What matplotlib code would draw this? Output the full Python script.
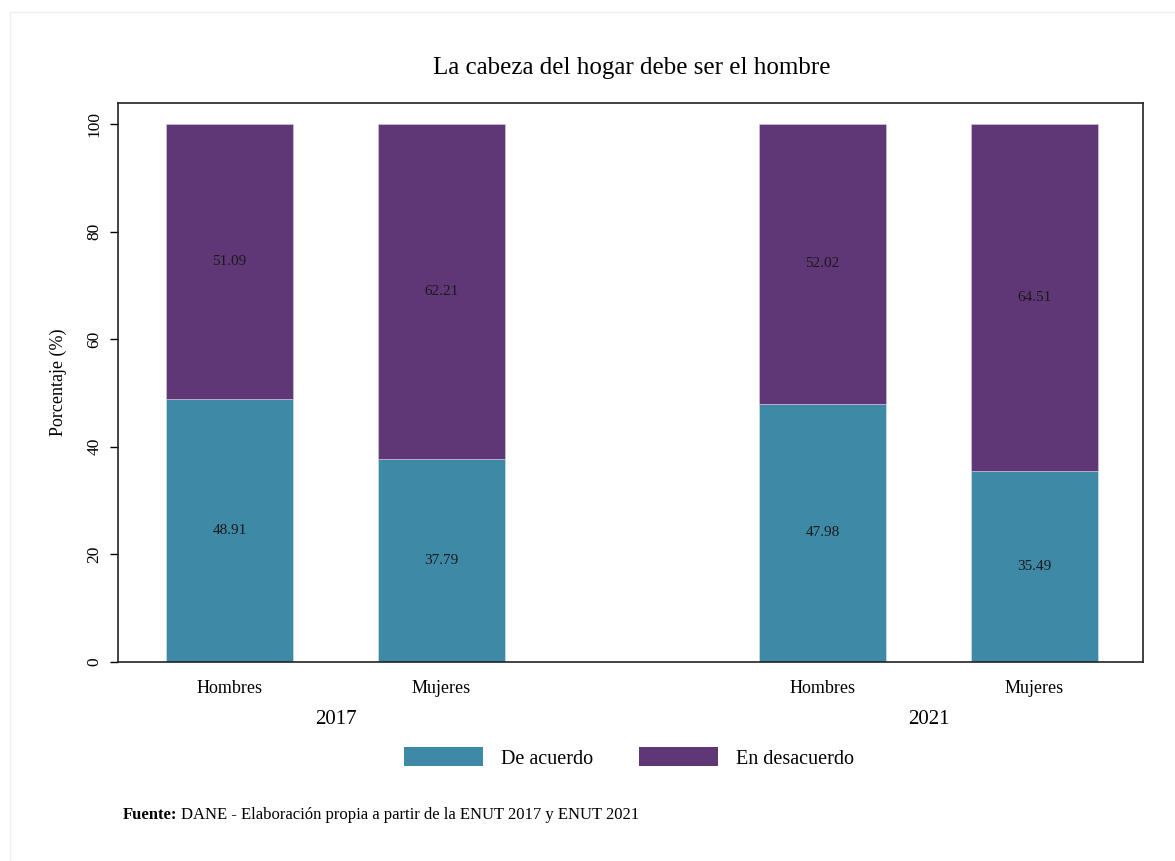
import matplotlib
matplotlib.use("Agg")
import matplotlib.pyplot as plt
from matplotlib.patches import Patch, Rectangle
import numpy as np

years = ["2017", "2021"]
groups = ["Hombres", "Mujeres", "Hombres", "Mujeres"]
de_acuerdo = [48.91, 37.79, 47.98, 35.49]
en_desacuerdo = [51.09, 62.21, 52.02, 64.51]
series_names = ["De acuerdo", "En desacuerdo"]
colors = ["#3E89A6", "#603776"]

plt.rcParams['font.family'] = ['Liberation Serif', 'DejaVu Serif']

W, H = 1175, 861
fig = plt.figure(figsize=(W / 100, H / 100), dpi=100)
fig.patch.set_facecolor("white")

def fx(px): return px / W
def fy(py): return 1 - py / H

ax = fig.add_axes([fx(118), fy(662), fx(1143) - fx(118), fy(103) - fy(662)])

pos = np.array([0, 1, 2.797, 3.797])
width = 0.6
ax.bar(pos, de_acuerdo, width=width, color=colors[0], edgecolor="#D8E6EC", linewidth=0.4)
ax.bar(pos, en_desacuerdo, width=width, bottom=de_acuerdo, color=colors[1], edgecolor="#D8CCE0", linewidth=0.4)

for p, a, d in zip(pos, de_acuerdo, en_desacuerdo):
    ax.text(p, a / 2, f"{a:.2f}", ha="center", va="center", fontsize=11, color="#1a1a1a")
    ax.text(p, a + d / 2, f"{d:.2f}", ha="center", va="center", fontsize=11, color="#1a1a1a")

ax.set_xlim(-0.526, 4.309)
ax.set_ylim(0, 103.9)
ax.set_yticks([0, 20, 40, 60, 80, 100])
ax.set_yticklabels(["0", "20", "40", "60", "80", "100"], rotation=90, va="center", fontsize=12.5)
ax.set_xticks(pos)
ax.set_xticklabels(groups, fontsize=13)
ax.tick_params(axis="x", length=0, pad=13)
ax.tick_params(axis="y", length=6, width=1, pad=5)
for s in ax.spines.values():
    s.set_linewidth(1.2)
    s.set_color("#222222")

ax.set_ylabel("Porcentaje (%)", fontsize=13, labelpad=14)

# Year group labels
for y, c in zip(years, [(pos[0] + pos[1]) / 2, (pos[2] + pos[3]) / 2]):
    ax.text(c, -10.6, y, ha="center", va="center", fontsize=15, clip_on=False)

fig.text(fx(632), fy(68), "La cabeza del hogar debe ser el hombre",
         ha="center", va="center", fontsize=18)

handles = [Patch(facecolor=colors[0]), Patch(facecolor=colors[1])]
fig.legend(handles, series_names, loc="center", bbox_to_anchor=(fx(629), fy(758)), ncol=2,
           frameon=False, fontsize=14.5, handlelength=3.9, handleheight=1.05,
           columnspacing=2.3, handletextpad=0.9)

fig.text(fx(123), fy(815), "Fuente:", fontsize=12, va="center", weight="bold")
fig.text(fx(181), fy(815), "DANE - Elaboración propia a partir de la ENUT 2017 y ENUT 2021",
         fontsize=12, va="center")

fig.patches.append(Rectangle((fx(10), fy(H + 20)), 1.5, fy(12) - fy(H + 20), transform=fig.transFigure,
                             fill=False, edgecolor="#EEEEEE", linewidth=1))

fig.savefig("out.png", dpi=100, facecolor="white")
